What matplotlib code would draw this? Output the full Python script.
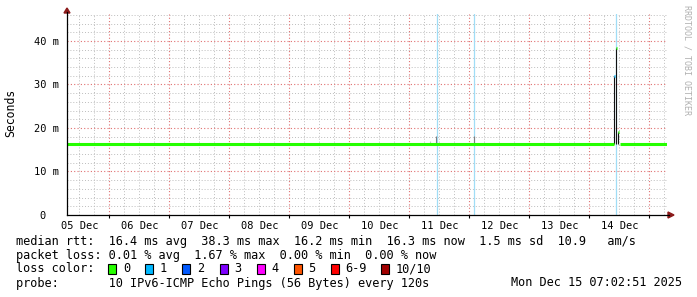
import numpy as np
import matplotlib
matplotlib.use("Agg")
import matplotlib.pyplot as plt
import matplotlib.dates as mdates
from matplotlib.patches import Polygon, Rectangle

# ---------------- data ----------------
t_start = "2025-12-05 07:02:51"
t_end = "2025-12-15 07:02:51"

day_labels = ["05 Dec", "06 Dec", "07 Dec", "08 Dec", "09 Dec",
              "10 Dec", "11 Dec", "12 Dec", "13 Dec", "14 Dec"]
label_times = ["2025-12-%02d 12:00" % d for d in range(5, 15)]

# median rtt segments (start, end, value in ms, lost pings)
median_t0 = ["2025-12-05 07:02:51", "2025-12-14 09:45", "2025-12-14 10:36", "2025-12-14 11:18", "2025-12-14 12:03"]
median_t1 = ["2025-12-14 09:39", "2025-12-14 10:18", "2025-12-14 11:12", "2025-12-14 11:48", "2025-12-15 07:02:51"]
median_ms = [16.3, 32.0, 38.3, 19.0, 16.3]
median_loss = [0, 1, 0, 0, 0]

# smoke bars (time, low ms, high ms, shade)
smoke_t = ["2025-12-11 08:15", "2025-12-11 10:39", "2025-12-12 01:45",
           "2025-12-14 09:51", "2025-12-14 10:45", "2025-12-14 11:15"]
smoke_lo = [16.3, 16.3, 16.3, 16.3, 16.3, 16.3]
smoke_hi = [16.9, 18.2, 18.2, 32.0, 38.3, 19.0]
smoke_shade = ["#c8c8c8", "#808080", "#808080", "#111111", "#111111", "#111111"]

# times with packet loss (drawn as full height lines)
loss_t = ["2025-12-11 10:57", "2025-12-12 01:57", "2025-12-14 10:36"]

loss_labels = ["0", "1", "2", "3", "4", "5", "6-9", "10/10"]
loss_colors = ["#26ff00", "#00b8ff", "#0059ff", "#7e00ff", "#ff00ff", "#ff5500", "#ff0000", "#a10000"]

legend_lines = [
    "median rtt:  16.4 ms avg  38.3 ms max  16.2 ms min  16.3 ms now  1.5 ms sd  10.9   am/s",
    "packet loss: 0.01 % avg  1.67 % max  0.00 % min  0.00 % now",
    "loss color:",
    "probe:       10 IPv6-ICMP Echo Pings (56 Bytes) every 120s",
]
stamp = "Mon Dec 15 07:02:51 2025"

# ---------------- drawing ----------------
W, H = 697, 297
fig = plt.figure(figsize=(W / 100, H / 100), dpi=100)
fig.patch.set_facecolor("white")

def fx(px):
    return px / W

def fy(py):
    return 1 - py / H

L, R, T, B = 67, 667, 14, 215
ax = fig.add_axes([fx(L), fy(B), (R - L) / W, (B - T) / H])
ax.set_facecolor("white")

d = lambda s: mdates.date2num(np.datetime64(s.replace(" ", "T")))
x0, x1 = d(t_start), d(t_end)
ax.set_xlim(x0, x1)
ax.set_ylim(0, 46.2)

mono = "DejaVu Sans Mono"
minor_c = "#bdbdbd"
major_c = "#e07070"
dots = (0, (1, 2))

# grid
mids = np.arange(d("2025-12-06 00:00"), x1, 1.0)
hrs6 = np.arange(d("2025-12-05 12:00"), x1, 0.25)
for v in hrs6:
    if np.min(np.abs(mids - v)) > 0.01:
        ax.axvline(v, color=minor_c, lw=0.7, ls=dots, zorder=1)
for yv in np.arange(2, 47, 2):
    if yv % 10:
        ax.axhline(yv, color=minor_c, lw=0.7, ls=dots, zorder=1)
for v in mids:
    ax.axvline(v, color=major_c, lw=0.8, ls=dots, zorder=1.1)
for yv in [10, 20, 30, 40]:
    ax.axhline(yv, color=major_c, lw=0.8, ls=dots, zorder=1.1)

# loss lines
for s in loss_t:
    ax.axvline(d(s), color="#a0ddf6", lw=0.9, zorder=2)

# smoke
for s, lo, hi, c in zip(smoke_t, smoke_lo, smoke_hi, smoke_shade):
    ax.vlines(d(s), lo, hi, color=c, lw=0.8, zorder=3)

# median
for a, b, v, l in zip(median_t0, median_t1, median_ms, median_loss):
    ax.hlines(v, d(a), d(b), color=loss_colors[l], lw=2.2, zorder=4)

# ticks
ax.set_xticks([d(s) for s in label_times])
ax.set_xticklabels(day_labels, fontfamily=mono, fontsize=7.5)
ax.set_xticks(mids, minor=True)
ax.tick_params(axis="x", which="major", length=0, pad=4)
ax.tick_params(axis="x", which="minor", length=2, width=0.8, direction="out", color="black")
ax.set_yticks([0, 10, 20, 30, 40])
ax.set_yticklabels(["0  ", "10 m", "20 m", "30 m", "40 m"], fontfamily=mono, fontsize=7.5)
ax.tick_params(axis="y", length=0, pad=6)

for sp in ["top", "right", "left", "bottom"]:
    ax.spines[sp].set_visible(False)

# axes lines with arrows
arrow_c = "#8b1a1a"
fig.add_artist(plt.Line2D([fx(L), fx(L)], [fy(B), fy(12)], color="black", lw=0.9))
fig.add_artist(plt.Line2D([fx(L), fx(669)], [fy(B), fy(B)], color="black", lw=0.9))
fig.add_artist(Polygon([[fx(64), fy(13)], [fx(70), fy(13)], [fx(67), fy(8)]],
                       closed=True, color=arrow_c, transform=fig.transFigure))
fig.add_artist(Polygon([[fx(668), fy(212)], [fx(668), fy(218)], [fx(674), fy(215)]],
                       closed=True, color=arrow_c, transform=fig.transFigure))

# y axis title
fig.text(fx(11), fy(113), "Seconds", rotation=90, ha="center", va="center",
         fontfamily=mono, fontsize=8.3)

# watermark
fig.text(fx(687), fy(5), "RRDTOOL / TOBI OETIKER", rotation=270, ha="center", va="top",
         fontfamily=mono, fontsize=6, color="#b0b0b0")

# legend text
fs = 8.6
rows_y = [241, 255, 269, 283]
for txt, yy in zip(legend_lines, rows_y):
    fig.text(fx(16), fy(yy), txt, ha="left", va="center", fontfamily=mono, fontsize=fs)
fig.text(fx(682), fy(283), stamp, ha="right", va="center", fontfamily=mono, fontsize=fs)

box_x = [108, 145, 182, 219.5, 256.5, 293.5, 330.5, 381]
for bx, lab, c in zip(box_x, loss_labels, loss_colors):
    fig.add_artist(Rectangle((fx(bx), fy(274)), 8 / W, 10 / H, facecolor=c,
                             edgecolor="black", lw=0.8, transform=fig.transFigure))
    fig.text(fx(bx + 15), fy(269), lab, ha="left", va="center", fontfamily=mono, fontsize=fs)

fig.savefig("out.png", dpi=100, facecolor="white")
